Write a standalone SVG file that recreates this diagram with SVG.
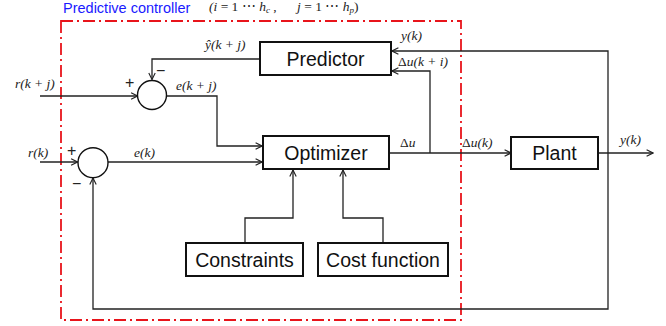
<svg xmlns="http://www.w3.org/2000/svg" width="666" height="326" viewBox="0 0 666 326">
  <defs>
    <marker id="arr" viewBox="0 0 10 10" refX="9" refY="5" markerWidth="8" markerHeight="8" markerUnits="userSpaceOnUse" orient="auto">
      <path d="M1,1 L9,5 L1,9" fill="none" stroke="#222" stroke-width="1.4"/>
    </marker>
  </defs>
  <style>
    .box { fill: #fff; stroke: #111; stroke-width: 2; }
    .lbl { font-family: "Liberation Sans", Arial, sans-serif; font-size: 19.5px; fill: #111; text-anchor: middle; }
    .math { font-family: "Liberation Serif", "DejaVu Serif", serif; font-style: italic; font-size: 13.5px; fill: #222; }
    .sign { font-family: "Liberation Sans", Arial, sans-serif; font-size: 16px; fill: #222; }
    .wire { fill: none; stroke: #222; stroke-width: 1.3; }
    .sum { fill: #fff; stroke: #111; stroke-width: 1.4; }
    .frame { fill: none; stroke: #e8141b; stroke-width: 1.8; stroke-dasharray: 12 4 2 4; }
  </style>
  <rect width="666" height="326" fill="#fff"/>

  <!-- controller boundary -->
  <rect class="frame" x="61" y="21" width="400" height="299"/>
  <text x="63" y="13" font-family="'Liberation Sans', Arial, sans-serif" font-size="14.5" fill="#1a1aff">Predictive controller</text>
  <text class="math" x="209" y="11" font-size="13">(i<tspan font-style="normal"> = 1 ⋯ </tspan>h<tspan font-size="9" dy="2">c</tspan><tspan dy="-2" font-style="normal"> ,</tspan></text>
  <text class="math" x="297" y="11" font-size="13">j<tspan font-style="normal"> = 1 ⋯ </tspan>h<tspan font-size="9" dy="2">p</tspan><tspan dy="-2" font-style="normal">)</tspan></text>

  <!-- connectors -->
  <g id="connectors">
    <!-- predicted output to upper summer -->
    <path class="wire" d="M260,59 H152 V79.5" marker-end="url(#arr)"/>
    <!-- r(k+j) into upper summer -->
    <path class="wire" d="M40,96 H137.5" marker-end="url(#arr)"/>
    <!-- e(k+j) to optimizer -->
    <path class="wire" d="M166.5,96 H217 V146 H262" marker-end="url(#arr)"/>
    <!-- r(k) into lower summer -->
    <path class="wire" d="M40,162 H77.5" marker-end="url(#arr)"/>
    <!-- e(k) to optimizer -->
    <path class="wire" d="M108,162 H262" marker-end="url(#arr)"/>
    <!-- delta u to plant -->
    <path class="wire" d="M389,153 H511" marker-end="url(#arr)"/>
    <!-- delta u back to predictor -->
    <path class="wire" d="M430,153 V71 H392" marker-end="url(#arr)"/>
    <!-- plant output -->
    <path class="wire" d="M598,153 H653" marker-end="url(#arr)"/>
    <!-- measured output feedback to predictor -->
    <path class="wire" d="M608,153 V51 H392" marker-end="url(#arr)"/>
    <!-- measured output feedback to lower summer -->
    <path class="wire" d="M608,153 V309 H93 V178" marker-end="url(#arr)"/>
    <!-- constraints to optimizer -->
    <path class="wire" d="M245,243 V218 H293 V170" marker-end="url(#arr)"/>
    <!-- cost function to optimizer -->
    <path class="wire" d="M383,243 V218 H343 V170" marker-end="url(#arr)"/>
  </g>

  <!-- signal labels -->
  <text class="math" x="205" y="49">ŷ(k + j)</text>
  <text class="math" x="15" y="88">r(k + j)</text>
  <text class="math" x="176" y="90">e(k + j)</text>
  <text class="math" x="28" y="157">r(k)</text>
  <text class="math" x="134" y="157">e(k)</text>
  <text class="math" x="400" y="147"><tspan font-style="normal">Δ</tspan>u</text>
  <text class="math" x="462" y="147" font-size="14.5"><tspan font-style="normal">Δ</tspan>u(k)</text>
  <text class="math" x="401" y="40">y(k)</text>
  <text class="math" x="398" y="66"><tspan font-style="normal">Δ</tspan>u(k + i)</text>
  <text class="math" x="620" y="144">y(k)</text>

  <!-- summing junctions -->
  <g id="sum1">
    <circle class="sum" cx="152" cy="95" r="14.5"/>
    <text class="sign" x="125" y="88">+</text>
    <text class="sign" x="156" y="76">−</text>
  </g>
  <g id="sum2">
    <circle class="sum" cx="93" cy="162.7" r="15"/>
    <text class="sign" x="67" y="156">+</text>
    <text class="sign" x="72" y="189">−</text>
  </g>

  <!-- blocks -->
  <g id="predictor">
    <rect class="box" x="260" y="42" width="131" height="33"/>
    <text class="lbl" x="325.5" y="66">Predictor</text>
  </g>
  <g id="optimizer">
    <rect class="box" x="263" y="136" width="126" height="33"/>
    <text class="lbl" x="326" y="160">Optimizer</text>
  </g>
  <g id="plant">
    <rect class="box" x="511" y="137" width="87" height="32"/>
    <text class="lbl" x="554.5" y="160">Plant</text>
  </g>
  <g id="constraints">
    <rect class="box" x="186" y="243" width="117" height="33"/>
    <text class="lbl" x="244.5" y="267">Constraints</text>
  </g>
  <g id="cost-function">
    <rect class="box" x="318" y="243" width="130" height="33"/>
    <text class="lbl" x="383" y="267">Cost function</text>
  </g>
</svg>
